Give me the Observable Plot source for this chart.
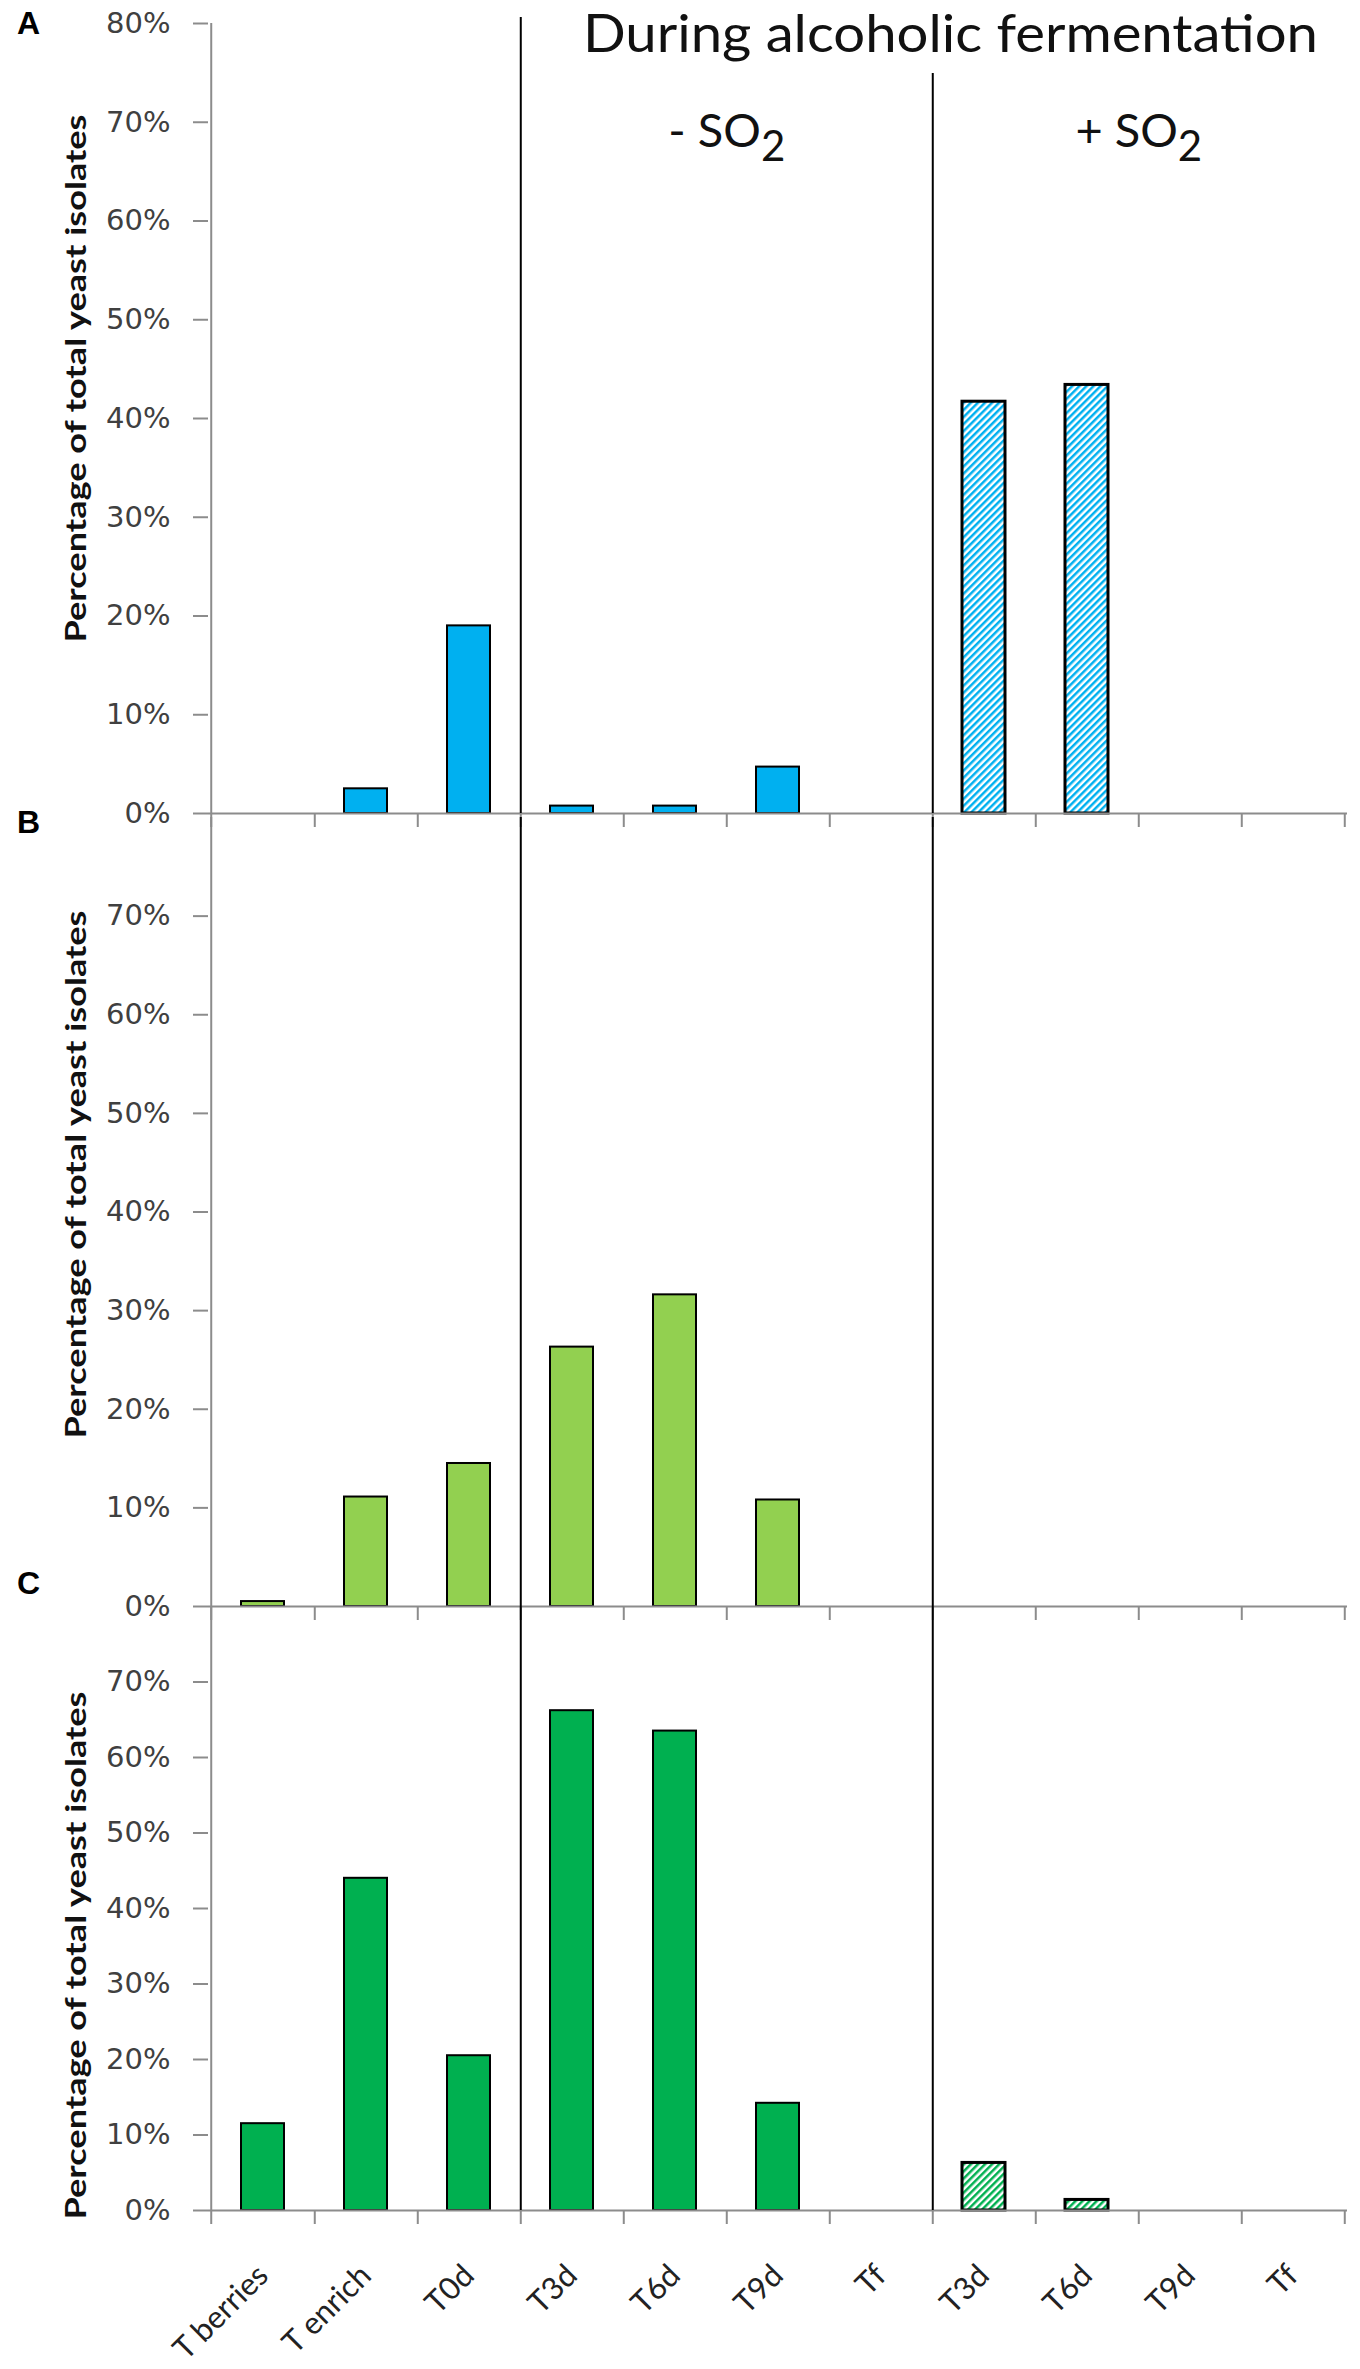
<!DOCTYPE html>
<html>
<head>
<meta charset="utf-8">
<script src="https://cdn.jsdelivr.net/npm/d3@7"></script>
<script src="https://cdn.jsdelivr.net/npm/@observablehq/plot@0.6"></script>
<style>
  body { margin: 0; background: #fff; }
  #wrap { position: relative; width: 1360px; height: 2369px; overflow: hidden; background: #fff; }
  #wrap svg { position: absolute; left: 0; }
</style>
</head>
<body>
<div id="wrap"></div>
<script>
// ---- data ----
const categories = ["T berries", "T enrich", "T0d", "T3d", "T6d", "T9d", "Tf", "T3d", "T6d", "T9d", "Tf"];
const treatments = ["pre", "pre", "pre", "-SO2", "-SO2", "-SO2", "-SO2", "+SO2", "+SO2", "+SO2", "+SO2"];
const valuesA = [0, 2.5, 19.0, 0.75, 0.75, 4.7, 0, 41.7, 43.4, 0, 0];
const valuesB = [0.5, 11.1, 14.5, 26.3, 31.6, 10.8, 0, 0, 0, 0, 0];
const valuesC = [11.5, 44.0, 20.5, 66.2, 63.5, 14.2, 0, 6.3, 1.4, 0, 0];
const yTicksFull = [0, 10, 20, 30, 40, 50, 60, 70, 80];
const yTicksLower = [0, 10, 20, 30, 40, 50, 60, 70];
const panelLetters = ["A", "B", "C"];
const panelColors = ["#00B0F0", "#92D050", "#00B050"];
const titleText = "During alcoholic fermentation";
const groupLabels = [{key: "-SO2", label: "- SO2"}, {key: "+SO2", label: "+ SO2"}];
const yLabel = "Percentage of total yeast isolates";

// ---- layout ----
const W = 1360, ML = 208, MR = 13;
const n = categories.length;
const step = (W - ML - MR) / n;
const idx = categories.map((_, i) => i);
const dividers = idx.filter(i => i < n - 1 && treatments[i] !== treatments[i + 1]);
const GRAY = "#8c8c8c";

function makePanel(cfg) {
  const {values, color, hatchId, mt, innerH, mb, yTickVals, letter, letterDy, labelDy, showX, lineInsets, extra} = cfg;
  const rows = idx.map(i => ({i, v: values[i], t: treatments[i]})).filter(d => d.v > 0);
  const marks = [
    Plot.barY(rows.filter(d => d.t !== "+SO2"), {x: "i", y: "v", fill: color, stroke: "#000", strokeWidth: 2}),
    Plot.barY(rows.filter(d => d.t === "+SO2"), {x: "i", y: "v", fill: `url(#${hatchId})`, stroke: "#000", strokeWidth: 3}),
    Plot.ruleY([0], {stroke: GRAY, strokeWidth: 2}),
    Plot.ruleX([0], {x: d => d, dx: -step / 2, stroke: GRAY, strokeWidth: 2}),
    Plot.ruleX([0], {x: d => d, dx: -step / 2, stroke: GRAY, strokeWidth: 2, insetTop: innerH, insetBottom: -14}),
    Plot.ruleX(idx, {x: d => d, dx: step / 2, stroke: GRAY, strokeWidth: 2, insetTop: innerH, insetBottom: -14}),
    ...dividers.map((dv, k) => Plot.ruleX([dv], {x: d => d, dx: step / 2, stroke: "#000", strokeWidth: 2, insetTop: lineInsets[k]})),
    Plot.axisY(yTickVals, {
      tickSize: 15, tickPadding: 23, tickFormat: d => d + "%",
      fontSize: 29, fontFamily: "DejaVu Sans", color: "#404040", stroke: GRAY, strokeWidth: 2, label: null
    }),
    Plot.text([yLabel], {
      frameAnchor: "left", rotate: -90, dx: 77 - ML, dy: labelDy, textAnchor: "middle", lineAnchor: "middle",
      fontSize: 28, fontWeight: "bold", fontFamily: "Lato", fill: "#111"
    }),
    Plot.text([letter], {
      frameAnchor: "top-left", dx: 28 - ML, dy: letterDy, textAnchor: "middle", lineAnchor: "middle",
      fontSize: 32, fontWeight: "bold", fontFamily: "Liberation Sans", fill: "#000"
    }),
    ...(extra || [])
  ];
  if (showX) {
    marks.push(Plot.axisX({
      tickSize: 0, tickPadding: 60, tickRotate: -45, tickFormat: i => categories[i],
      fontSize: 31, fontFamily: "Lato", color: "#222", label: null
    }));
  }
  return Plot.plot({
    width: W,
    height: mt + innerH + mb,
    marginTop: mt, marginBottom: mb, marginLeft: ML, marginRight: MR,
    style: {background: "transparent", overflow: "visible"},
    x: {type: "band", domain: idx, paddingInner: 0.585, paddingOuter: 0.2925, axis: showX ? undefined : null},
    y: {domain: [0, 80], axis: null},
    marks
  });
}

function groupMarks() {
  return groupLabels.map(g => {
    const pos = idx.filter(i => treatments[i] === g.key);
    const mid = (pos[0] + pos[pos.length - 1]) / 2;
    const base = Math.floor(mid);
    return Plot.text([g.label], {
      x: () => base, dx: (mid - base) * step, frameAnchor: "top", dy: 90,
      textAnchor: "middle", lineAnchor: "top", fontSize: 47, fontFamily: "Lato", fill: "#111"
    });
  });
}

const titleMark = Plot.text([titleText], {
  frameAnchor: "top-left", dx: 950 - ML, dy: -8, textAnchor: "middle", lineAnchor: "top",
  fontSize: 52, fontFamily: "Lato", fill: "#111"
});

const panels = [
  {values: valuesA, color: panelColors[0], hatchId: "hatch0", top: 0, mt: 23, innerH: 790, mb: 0,
   yTickVals: yTicksFull, letter: panelLetters[0], letterDy: 0, labelDy: -40, showX: false,
   lineInsets: [-6, 50], extra: [titleMark, ...groupMarks()]},
  {values: valuesB, color: panelColors[1], hatchId: "hatch1", top: 813, mt: 4, innerH: 789, mb: 0,
   yTickVals: yTicksLower, letter: panelLetters[1], letterDy: 5.5, labelDy: -37.5, showX: false,
   lineInsets: [0, 0]},
  {values: valuesC, color: panelColors[2], hatchId: "hatch2", top: 1606, mt: 0, innerH: 604, mb: 159,
   yTickVals: yTicksLower, letter: panelLetters[2], letterDy: -22.5, labelDy: 47, showX: true,
   lineInsets: [0, 0]}
];

const wrap = document.getElementById("wrap");
panels.forEach((p, k) => {
  const svg = makePanel(p);
  svg.style.top = p.top + "px";
  const defs = d3.select(svg).insert("defs", ":first-child");
  const pat = defs.append("pattern")
    .attr("id", p.hatchId).attr("patternUnits", "userSpaceOnUse")
    .attr("width", 5).attr("height", 5).attr("patternTransform", "rotate(45)");
  pat.append("rect").attr("width", 5).attr("height", 5).attr("fill", "#fff");
  pat.append("rect").attr("width", 2.5).attr("height", 5).attr("fill", p.color);
  d3.select(svg).selectAll("text").each(function () {
    const t = this.textContent;
    if (t === yLabel) {
      d3.select(this).attr("textLength", 528).attr("lengthAdjust", "spacingAndGlyphs");
    } else if (t === titleText) {
      d3.select(this).attr("textLength", 735).attr("lengthAdjust", "spacingAndGlyphs");
    } else if (/SO2$/.test(t)) {
      const sel = d3.select(this);
      sel.text(t.slice(0, -1));
      sel.append("tspan").attr("dy", 14).attr("font-size", 42).text("2");
    }
  });
  wrap.appendChild(svg);
});
</script>
</body>
</html>
